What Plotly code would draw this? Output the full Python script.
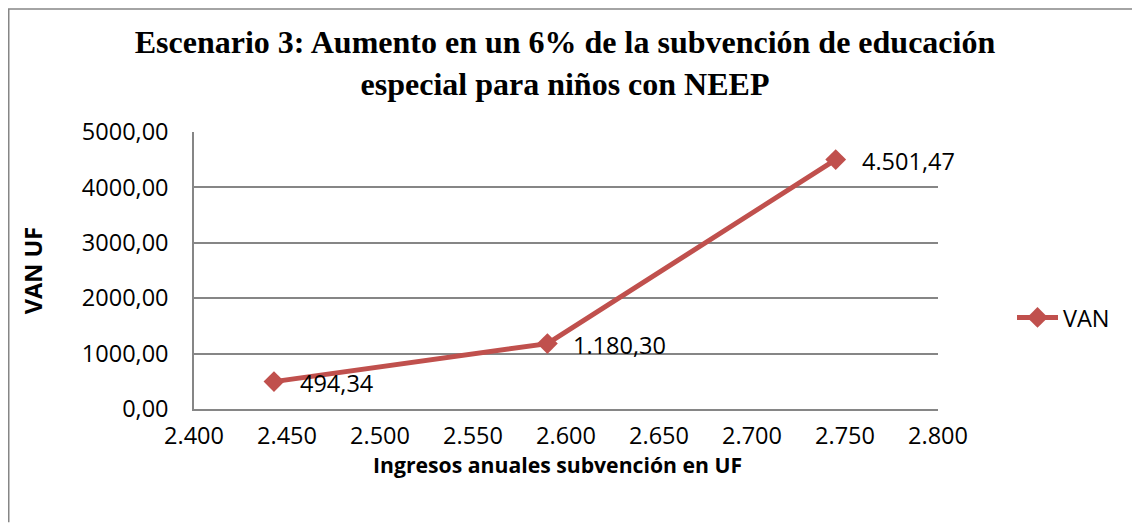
import plotly.graph_objects as go

# Data
ingresos = [2443, 2590, 2745]
van = [494.34, 1180.30, 4501.47]
series_name = "VAN"
title_text = "Escenario 3: Aumento en un 6% de la subvención de educación<br>especial para niños con NEEP"
x_title = "Ingresos anuales subvención en UF"
y_title = "VAN UF"

def fmt_es(v):
    s = f"{v:,.2f}"
    return s.replace(",", "X").replace(".", ",").replace("X", ".")

OFF = 8  # default page body margin
W, H = 1125, 515
L, T = 194 - OFF, 132 - OFF
PW, PH = 744, 277.5
R = W - L - PW
B = H - T - PH

red = "#C0504D"
grid = "#868686"
tick_font = dict(family="Open Sans", size=23.5, color="#000000")

fig = go.Figure()
fig.add_trace(go.Scatter(
    x=ingresos, y=van, mode="lines+markers", name=series_name,
    line=dict(color=red, width=5),
    marker=dict(symbol="diamond", size=16, color=red),
    showlegend=True,
))

def py(page_y):
    return (T + PH - (page_y - OFF)) / PH

def px(page_x):
    return ((page_x - OFF) - L) / PW

annotations = []
for xv, yv in zip(ingresos, van):
    annotations.append(dict(
        x=xv, y=yv, xref="x", yref="y", text=fmt_es(yv), showarrow=False,
        xanchor="left", yanchor="middle", xshift=24, yshift=-1,
        font=tick_font,
    ))
annotations.append(dict(
    x=px(557), y=py(465), xref="paper", yref="paper", text="<b>" + x_title + "</b>",
    showarrow=False, xanchor="center", yanchor="middle",
    font=dict(family="Open Sans", size=21.2, color="#000000"),
))

fig.update_layout(
    width=W, height=H,
    margin=dict(l=L, r=R, t=T, b=B, autoexpand=False),
    paper_bgcolor="white", plot_bgcolor="white",
    separators=",.",
    showlegend=True,
    title=dict(
        text=title_text, x=(L + PW / 2 - 1) / W, xanchor="center", y=1 - (53 - OFF) / H, yanchor="middle",
        font=dict(family="Liberation Serif", size=32, color="#000000", weight="bold"),
    ),
    xaxis=dict(
        range=[2400, 2800], dtick=50, tick0=2400, tickformat=",.0f",
        showgrid=False, zeroline=False, showline=True, linecolor=grid, linewidth=1.5,
        ticks="", tickfont=tick_font, ticklabelstandoff=5,
    ),
    yaxis=dict(
        range=[0, 5000], dtick=1000, tickformat=".2f",
        showgrid=True, gridcolor=grid, gridwidth=1.5, zeroline=False,
        showline=True, linecolor=grid, linewidth=1.5,
        ticks="", tickfont=tick_font, ticklabelstandoff=19,
        title=dict(text="<b>" + y_title + "</b>", font=dict(family="Open Sans", size=23.5, color="#000000"), standoff=33),
    ),
    legend=dict(
        x=px(1012), y=py(318), xanchor="left", yanchor="middle",
        font=tick_font, bgcolor="rgba(0,0,0,0)", itemwidth=41,
    ),
    annotations=annotations,
    shapes=[
        dict(type="line", xref="paper", yref="paper",
             x0=-L / PW + 0.75 / PW, x1=-L / PW + 0.75 / PW,
             y0=(PH + T - H) / PH, y1=(PH + T - 0.75) / PH,
             line=dict(color=grid, width=1.5), layer="below"),
        dict(type="line", xref="paper", yref="paper",
             x0=-L / PW, x1=(W - 1 - L) / PW,
             y0=(PH + T - 0.75) / PH, y1=(PH + T - 0.75) / PH,
             line=dict(color=grid, width=1.5), layer="below"),
    ],
)

fig.write_html("out.html", config={"displayModeBar": False})
